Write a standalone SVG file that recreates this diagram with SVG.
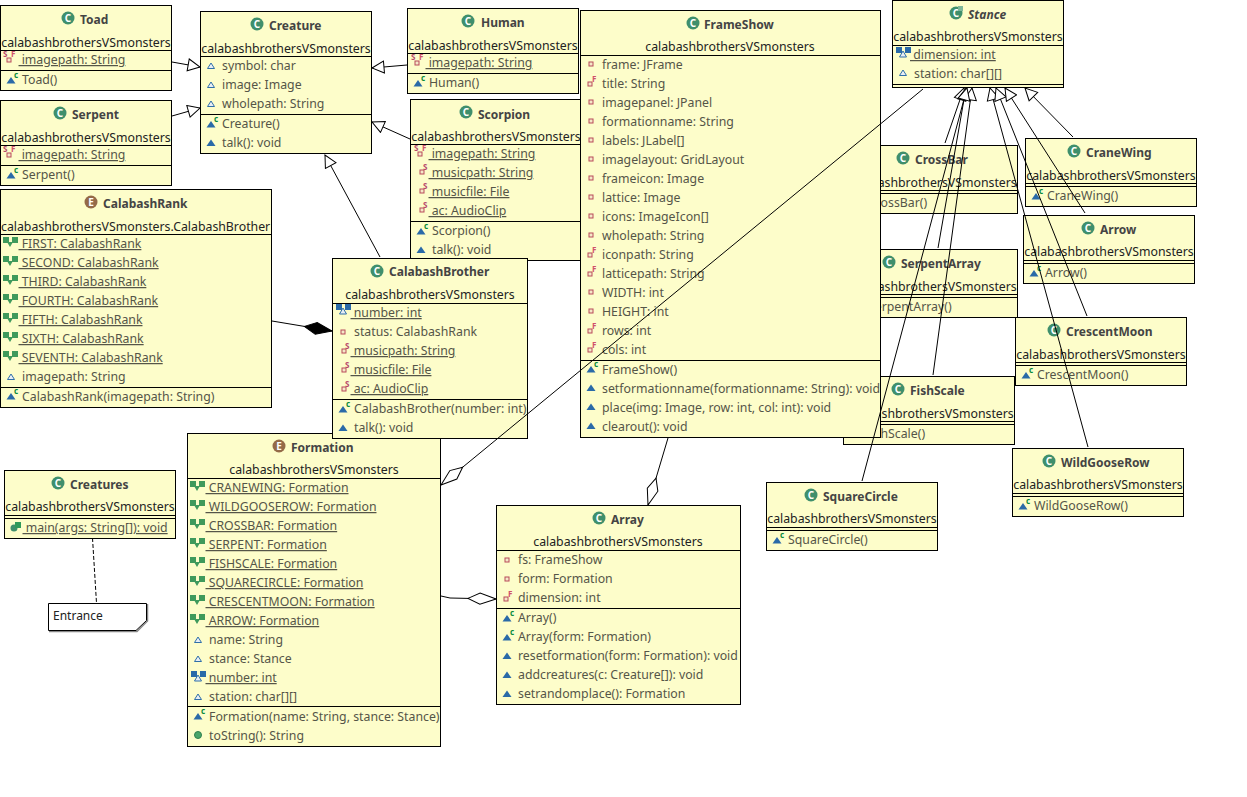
<svg xmlns="http://www.w3.org/2000/svg" width="1247" height="797" viewBox="0 0 1247 797">
<style>
text{font-family:"Noto Sans","Liberation Sans",sans-serif;font-size:12.3px;fill:#555548;white-space:pre}
.b{fill:#fdfdca;stroke:#000;stroke-width:1}
.s{stroke:#000;stroke-width:1;fill:none}
.t{font-weight:700;fill:#444;font-size:12px}
.i{font-style:italic}
.p{fill:#222;text-anchor:middle}
.l{fill:#222}
.u{text-decoration:underline}
.c{stroke:#000;stroke-width:1;fill:none}
.h{marker-end:url(#tri)}
.a{marker-end:url(#dia)}
.k{marker-end:url(#comp)}
.o{font-size:8px;font-weight:700}
.n{fill:#222;font-size:12px}
</style>
<defs>
<marker id="tri" markerUnits="userSpaceOnUse" viewBox="-1 -7 14 14" refX="12" refY="0" markerWidth="14" markerHeight="14" orient="auto"><polygon points="0,-6 12,0 0,6" fill="#fff" stroke="#000"/></marker>
<marker id="dia" markerUnits="userSpaceOnUse" viewBox="-1 -7 30 14" refX="28" refY="0" markerWidth="30" markerHeight="14" orient="auto"><polygon points="0,0 12,-5.5 28,0 12,5.5" fill="#fff" stroke="#000"/></marker>
<marker id="comp" markerUnits="userSpaceOnUse" viewBox="-1 -7 30 14" refX="28" refY="0" markerWidth="30" markerHeight="14" orient="auto"><polygon points="0,0 12,-6 28,0 12,6" fill="#000" stroke="#000"/></marker>
<g id="cls"><circle r="6.5" fill="#3f8f6c"/><text class="o" x="0" y="3.5" text-anchor="middle" style="fill:#fff;font-size:10px">C</text></g>
<g id="abs"><circle r="6.5" fill="#3f8f6c"/><text class="o" x="0" y="3.5" text-anchor="middle" style="fill:#fff;font-size:10px">C</text><rect x="2" y="-7" width="5" height="5" fill="#7fb79a"/></g>
<g id="enu"><circle r="6.5" fill="#946a48"/><text class="o" x="0" y="3.5" text-anchor="middle" style="fill:#fff;font-size:10px">E</text></g>
<polygon id="def" points="-3.5,2.5 0,-3 3.5,2.5" fill="#e8eef5" stroke="#2f6fa8"/>
<polygon id="mth" points="-4.5,3 0,-3.5 4.5,3" fill="#2a6aa8"/>
<g id="cto"><polygon points="-4.5,3.5 0,-3 4.5,3.5" fill="#2a6aa8"/><text class="o" x="3" y="-2.5" style="fill:#0a8a3a">c</text></g>
<rect id="prv" x="-2" y="-2" width="4" height="4" fill="#f5e8c8" stroke="#b84a5a"/>
<g id="prf"><rect x="-3" y="-1" width="4" height="4" fill="#f5e8c8" stroke="#b84a5a"/><text class="o" x="1" y="-1" style="fill:#d0506a">F</text></g>
<g id="prs"><rect x="-3" y="-1" width="4" height="4" fill="#f5e8c8" stroke="#b84a5a"/><text class="o" x="0" y="-1" style="fill:#b84a6a">S</text></g>
<g id="psf"><rect x="-3" y="0" width="4" height="4" fill="#f5e8c8" stroke="#b84a5a"/><text class="o" x="-7" y="-1" style="fill:#b84a6a">S</text><text class="o" x="1" y="-1" style="fill:#d0506a">F</text></g>
<g id="esf"><path d="M-3,0 h6 l-3,5z" fill="#3f9a5c"/><rect x="-7" y="-5" width="6" height="6" fill="#3f9a5c"/><rect x="2" y="-5" width="6" height="6" fill="#3f9a5c"/></g>
<g id="bsf"><polygon points="-3.5,5 0,-1 3.5,5" fill="#e8eef5" stroke="#2f6fa8"/><rect x="-7" y="-5" width="6" height="6" fill="#2a6aa8"/><rect x="2" y="-5" width="6" height="6" fill="#2a6aa8"/></g>
<g id="mai"><circle cx="-1" cy="1" r="3.5" fill="#3f8f6c"/><rect x="0" y="-5" width="6" height="6" fill="#2f9a5a"/></g>
<circle id="pub" r="3.5" fill="#4aa56a" stroke="#2f7f4f"/>
</defs>

<g id="toad"><rect class="b" x="0.5" y="5.5" width="171" height="85"/><path class="s" d="M0,50.5H171M0,70.5H171"/><use href="#cls" x="68" y="18"/><text class="t" x="80" y="24">Toad</text><text class="p" x="86" y="47">calabashbrothersVSmonsters</text><use href="#psf" x="10" y="58"/><text class="u" x="18.5" y="64"> imagepath: String</text><use href="#cto" x="11" y="80"/><text x="22" y="84">Toad()</text></g>

<g id="serpent"><rect class="b" x="0.5" y="100.5" width="171" height="85"/><path class="s" d="M0,145.5H171M0,165.5H171"/><use href="#cls" x="60" y="113"/><text class="t" x="72" y="119">Serpent</text><text class="p" x="86" y="142">calabashbrothersVSmonsters</text><use href="#psf" x="10" y="153"/><text class="u" x="18.5" y="159"> imagepath: String</text><use href="#cto" x="11" y="175"/><text x="22" y="179">Serpent()</text></g>

<g id="calabashrank"><rect class="b" x="0.5" y="189.5" width="271" height="218"/><path class="s" d="M0,234.5H271M0,387.5H271"/><use href="#enu" x="91" y="202"/><text class="t" x="103" y="208">CalabashRank</text><text class="l" x="1" y="231">calabashbrothersVSmonsters.CalabashBrother</text>
<use href="#esf" x="10" y="242"/><text class="u" x="18.5" y="248"> FIRST: CalabashRank</text>
<use href="#esf" x="10" y="261"/><text class="u" x="18.5" y="267"> SECOND: CalabashRank</text>
<use href="#esf" x="10" y="280"/><text class="u" x="18.5" y="286"> THIRD: CalabashRank</text>
<use href="#esf" x="10" y="299"/><text class="u" x="18.5" y="305"> FOURTH: CalabashRank</text>
<use href="#esf" x="10" y="318"/><text class="u" x="18.5" y="324"> FIFTH: CalabashRank</text>
<use href="#esf" x="10" y="337"/><text class="u" x="18.5" y="343"> SIXTH: CalabashRank</text>
<use href="#esf" x="10" y="356"/><text class="u" x="18.5" y="362"> SEVENTH: CalabashRank</text>
<use href="#def" x="11" y="377"/><text x="22" y="381">imagepath: String</text>
<use href="#cto" x="11" y="396"/><text x="22" y="401">CalabashRank(imagepath: String)</text></g>

<g id="creature"><rect class="b" x="200.5" y="11.5" width="171" height="142"/><path class="s" d="M200,56.5H371M200,114.5H371"/><use href="#cls" x="257" y="24"/><text class="t" x="269" y="30">Creature</text><text class="p" x="286" y="53">calabashbrothersVSmonsters</text>
<use href="#def" x="211" y="66"/><text x="222" y="70">symbol: char</text>
<use href="#def" x="211" y="85"/><text x="222" y="89">image: Image</text>
<use href="#def" x="211" y="104"/><text x="222" y="108">wholepath: String</text>
<use href="#cto" x="211" y="124"/><text x="222" y="128">Creature()</text>
<use href="#mth" x="211" y="143"/><text x="222" y="147">talk(): void</text></g>

<g id="human"><rect class="b" x="407.5" y="8.5" width="171" height="85"/><path class="s" d="M407,53.5H578M407,73.5H578"/><use href="#cls" x="468" y="21"/><text class="t" x="481" y="27">Human</text><text class="p" x="493" y="50">calabashbrothersVSmonsters</text><use href="#psf" x="418" y="61"/><text class="u" x="425.5" y="67"> imagepath: String</text><use href="#cto" x="418" y="83"/><text x="429" y="87">Human()</text></g>

<g id="scorpion"><rect class="b" x="410.5" y="99.5" width="171" height="161"/><path class="s" d="M410,144.5H581M410,221.5H581"/><use href="#cls" x="466" y="112"/><text class="t" x="478" y="119">Scorpion</text><text class="p" x="496" y="141">calabashbrothersVSmonsters</text>
<use href="#psf" x="421" y="152"/><text class="u" x="428.5" y="158"> imagepath: String</text>
<use href="#prs" x="423" y="171"/><text class="u" x="428.5" y="177"> musicpath: String</text>
<use href="#prs" x="423" y="190"/><text class="u" x="428.5" y="196"> musicfile: File</text>
<use href="#prs" x="423" y="209"/><text class="u" x="428.5" y="215"> ac: AudioClip</text>
<use href="#cto" x="421" y="231"/><text x="432" y="235">Scorpion()</text>
<use href="#mth" x="421" y="250"/><text x="432" y="254">talk(): void</text></g>

<g id="crossbar"><rect class="b" x="846.5" y="145.5" width="171" height="68"/><path class="s" d="M846,190.5H1017M846,193.5H1017"/><use href="#cls" x="903" y="158"/><text class="t" x="915" y="164">CrossBar</text><text class="p" x="932" y="187">calabashbrothersVSmonsters</text><use href="#cto" x="857" y="203"/><text x="868" y="207">CrossBar()</text></g>

<g id="serpentarray"><rect class="b" x="846.5" y="249.5" width="171" height="68"/><path class="s" d="M846,294.5H1017M846,297.5H1017"/><use href="#cls" x="889" y="262"/><text class="t" x="901" y="268">SerpentArray</text><text class="p" x="932" y="291">calabashbrothersVSmonsters</text><use href="#cto" x="857" y="307"/><text x="868" y="311">SerpentArray()</text></g>

<g id="fishscale"><rect class="b" x="843.5" y="376.5" width="171" height="68"/><path class="s" d="M843,421.5H1014M843,424.5H1014"/><use href="#cls" x="898" y="389"/><text class="t" x="910" y="395">FishScale</text><text class="p" x="929" y="418">calabashbrothersVSmonsters</text><use href="#cto" x="854" y="434"/><text x="865" y="438">FishScale()</text></g>

<g id="frameshow"><rect class="b" x="580.5" y="10.5" width="300" height="427"/><path class="s" d="M580,55.5H880M580,360.5H880"/><use href="#cls" x="693" y="23"/><text class="t" x="704" y="29">FrameShow</text><text class="p" x="730" y="51">calabashbrothersVSmonsters</text>
<use href="#prv" x="591" y="64"/><text x="602" y="68.5">frame: JFrame</text>
<use href="#prf" x="591" y="83"/><text x="602" y="87.5">title: String</text>
<use href="#prv" x="591" y="102"/><text x="602" y="106.5">imagepanel: JPanel</text>
<use href="#prv" x="591" y="121"/><text x="602" y="125.5">formationname: String</text>
<use href="#prv" x="591" y="140"/><text x="602" y="144.5">labels: JLabel[]</text>
<use href="#prv" x="591" y="159"/><text x="602" y="163.5">imagelayout: GridLayout</text>
<use href="#prv" x="591" y="178"/><text x="602" y="182.5">frameicon: Image</text>
<use href="#prv" x="591" y="197"/><text x="602" y="201.5">lattice: Image</text>
<use href="#prv" x="591" y="216"/><text x="602" y="220.5">icons: ImageIcon[]</text>
<use href="#prv" x="591" y="235"/><text x="602" y="239.5">wholepath: String</text>
<use href="#prf" x="591" y="254"/><text x="602" y="258.5">iconpath: String</text>
<use href="#prf" x="591" y="273"/><text x="602" y="277.5">latticepath: String</text>
<use href="#prv" x="591" y="292"/><text x="602" y="296.5">WIDTH: int</text>
<use href="#prv" x="591" y="311"/><text x="602" y="315.5">HEIGHT: int</text>
<use href="#prf" x="591" y="330"/><text x="602" y="334.5">rows: int</text>
<use href="#prf" x="591" y="349"/><text x="602" y="353.5">cols: int</text>
<use href="#cto" x="591" y="369"/><text x="602" y="373.5">FrameShow()</text>
<use href="#mth" x="591" y="388"/><text x="602" y="392.5">setformationname(formationname: String): void</text>
<use href="#mth" x="591" y="407"/><text x="602" y="411.5">place(img: Image, row: int, col: int): void</text>
<use href="#mth" x="591" y="426"/><text x="602" y="430.5">clearout(): void</text></g>

<g id="stance"><rect class="b" x="892.5" y="0.5" width="171" height="87"/><path class="s" d="M892,45.5H1063M892,84.5H1063"/><use href="#abs" x="956" y="13"/><text class="t i" x="968" y="19">Stance</text><text class="p" x="978" y="41">calabashbrothersVSmonsters</text><use href="#bsf" x="903" y="52"/><text class="u" x="910" y="59"> dimension: int</text><use href="#def" x="903" y="73"/><text x="914" y="78">station: char[][]</text></g>

<g id="cranewing"><rect class="b" x="1025.5" y="138.5" width="171" height="68"/><path class="s" d="M1025,183.5H1196M1025,186.5H1196"/><use href="#cls" x="1074" y="151"/><text class="t" x="1086" y="157">CraneWing</text><text class="p" x="1111" y="180">calabashbrothersVSmonsters</text><use href="#cto" x="1036" y="196"/><text x="1047" y="200">CraneWing()</text></g>

<g id="arrow"><rect class="b" x="1023.5" y="215.5" width="171" height="68"/><path class="s" d="M1023,260.5H1194M1023,263.5H1194"/><use href="#cls" x="1088" y="228"/><text class="t" x="1100" y="234">Arrow</text><text class="p" x="1109" y="256">calabashbrothersVSmonsters</text><use href="#cto" x="1034" y="273"/><text x="1045" y="277">Arrow()</text></g>

<g id="crescentmoon"><rect class="b" x="1015.5" y="317.5" width="171" height="68"/><path class="s" d="M1015,362.5H1186M1015,365.5H1186"/><use href="#cls" x="1054" y="330"/><text class="t" x="1066" y="336">CrescentMoon</text><text class="p" x="1101" y="359">calabashbrothersVSmonsters</text><use href="#cto" x="1026" y="375"/><text x="1037" y="379">CrescentMoon()</text></g>

<g id="wildgooserow"><rect class="b" x="1012.5" y="448.5" width="171" height="68"/><path class="s" d="M1012,493.5H1183M1012,496.5H1183"/><use href="#cls" x="1049" y="461"/><text class="t" x="1061" y="467">WildGooseRow</text><text class="p" x="1098" y="489">calabashbrothersVSmonsters</text><use href="#cto" x="1023" y="506"/><text x="1034" y="510">WildGooseRow()</text></g>

<g id="squarecircle"><rect class="b" x="766.5" y="482.5" width="171" height="68"/><path class="s" d="M766,527.5H937M766,530.5H937"/><use href="#cls" x="811" y="495"/><text class="t" x="823" y="501">SquareCircle</text><text class="p" x="852" y="523">calabashbrothersVSmonsters</text><use href="#cto" x="777" y="540"/><text x="788" y="544">SquareCircle()</text></g>

<g id="creatures"><rect class="b" x="4.5" y="470.5" width="171" height="68"/><path class="s" d="M4,515.5H175M4,518.5H175"/><use href="#cls" x="58" y="483"/><text class="t" x="70" y="489">Creatures</text><text class="p" x="90" y="511">calabashbrothersVSmonsters</text><use href="#mai" x="15" y="527"/><text class="u" x="22.5" y="532"> main(args: String[]): void</text></g>

<g id="entrance"><path d="M147.5,604V621L137,631.5H49" fill="none" stroke="#888" stroke-width="1.5"/><polygon points="48.5,603.5 146.5,603.5 146.5,620.5 136,630.5 48.5,630.5" fill="#fff" stroke="#000"/><text class="n" x="53" y="620">Entrance</text></g>

<g id="formation"><rect class="b" x="187.5" y="433.5" width="253" height="313"/><path class="s" d="M187,478.5H440M187,706.5H440"/><use href="#enu" x="279" y="446"/><text class="t" x="291" y="452">Formation</text><text class="p" x="314" y="474">calabashbrothersVSmonsters</text>
<use href="#esf" x="197" y="486"/><text class="u" x="205.5" y="492"> CRANEWING: Formation</text>
<use href="#esf" x="197" y="505"/><text class="u" x="205.5" y="511"> WILDGOOSEROW: Formation</text>
<use href="#esf" x="197" y="524"/><text class="u" x="205.5" y="530"> CROSSBAR: Formation</text>
<use href="#esf" x="197" y="543"/><text class="u" x="205.5" y="549"> SERPENT: Formation</text>
<use href="#esf" x="197" y="562"/><text class="u" x="205.5" y="568"> FISHSCALE: Formation</text>
<use href="#esf" x="197" y="581"/><text class="u" x="205.5" y="587"> SQUARECIRCLE: Formation</text>
<use href="#esf" x="197" y="600"/><text class="u" x="205.5" y="606"> CRESCENTMOON: Formation</text>
<use href="#esf" x="197" y="619"/><text class="u" x="205.5" y="625"> ARROW: Formation</text>
<use href="#def" x="198" y="640"/><text x="209" y="644">name: String</text>
<use href="#def" x="198" y="659"/><text x="209" y="663">stance: Stance</text>
<use href="#bsf" x="198" y="676"/><text class="u" x="205.5" y="682"> number: int</text>
<use href="#def" x="198" y="697"/><text x="209" y="701">station: char[][]</text>
<use href="#cto" x="198" y="716"/><text x="209" y="721">Formation(name: String, stance: Stance)</text>
<use href="#pub" x="198" y="735"/><text x="209" y="740">toString(): String</text></g>

<g id="calabashbrother"><rect class="b" x="332.5" y="258.5" width="195" height="180"/><path class="s" d="M332,303.5H527M332,399.5H527"/><use href="#cls" x="377" y="271"/><text class="t" x="389" y="276">CalabashBrother</text><text class="p" x="430" y="299">calabashbrothersVSmonsters</text>
<use href="#bsf" x="343" y="309"/><text class="u" x="350.5" y="317"> number: int</text>
<use href="#prv" x="343" y="332"/><text x="354" y="336">status: CalabashRank</text>
<use href="#prs" x="345" y="350"/><text class="u" x="350.5" y="355"> musicpath: String</text>
<use href="#prs" x="345" y="369"/><text class="u" x="350.5" y="374"> musicfile: File</text>
<use href="#prs" x="345" y="388"/><text class="u" x="350.5" y="393"> ac: AudioClip</text>
<use href="#cto" x="343" y="409"/><text x="354" y="413">CalabashBrother(number: int)</text>
<use href="#mth" x="343" y="428"/><text x="354" y="432">talk(): void</text></g>

<g id="array"><rect class="b" x="496.5" y="505.5" width="244" height="199"/><path class="s" d="M496,550.5H740M496,608.5H740"/><use href="#cls" x="599" y="518"/><text class="t" x="611" y="524">Array</text><text class="p" x="618" y="546">calabashbrothersVSmonsters</text>
<use href="#prv" x="507" y="560"/><text x="518" y="564">fs: FrameShow</text>
<use href="#prv" x="507" y="579"/><text x="518" y="583">form: Formation</text>
<use href="#prf" x="507" y="598"/><text x="518" y="602">dimension: int</text>
<use href="#cto" x="507" y="618"/><text x="518" y="622">Array()</text>
<use href="#cto" x="507" y="637"/><text x="518" y="641">Array(form: Formation)</text>
<use href="#mth" x="507" y="656"/><text x="518" y="660">resetformation(form: Formation): void</text>
<use href="#mth" x="507" y="675"/><text x="518" y="679">addcreatures(c: Creature[]): void</text>
<use href="#mth" x="507" y="694"/><text x="518" y="698">setrandomplace(): Formation</text></g>

<g id="connectors">
<line class="c h" x1="172" y1="62" x2="200" y2="67"/>
<line class="c h" x1="172" y1="116" x2="200" y2="108"/>
<line class="c h" x1="407" y1="65" x2="372" y2="68"/>
<line class="c h" x1="410" y1="139" x2="372" y2="122"/>
<line class="c h" x1="380" y1="257" x2="325" y2="155"/>
<line class="c k" x1="272" y1="321" x2="332" y2="331"/>
<line class="c a" x1="923" y1="89" x2="441" y2="485"/>
<line class="c a" x1="668" y1="438" x2="648" y2="505"/>
<polyline class="c a" points="441,596 450,598 496,599"/>
<line x1="92.5" y1="538" x2="96.5" y2="603" stroke="#000" stroke-dasharray="4 2"/>
<line class="c h" x1="945" y1="143" x2="964" y2="88"/>
<line class="c h" x1="938" y1="248" x2="966" y2="88"/>
<line class="c h" x1="933" y1="375" x2="972" y2="88"/>
<line class="c h" x1="862" y1="481" x2="967" y2="88"/>
<line class="c h" x1="1088" y1="447" x2="990" y2="88"/>
<line class="c h" x1="1087" y1="316" x2="996" y2="88"/>
<line class="c h" x1="1085" y1="213" x2="1005" y2="88"/>
<line class="c h" x1="1073" y1="137" x2="1025" y2="88"/>
</g>
</svg>
